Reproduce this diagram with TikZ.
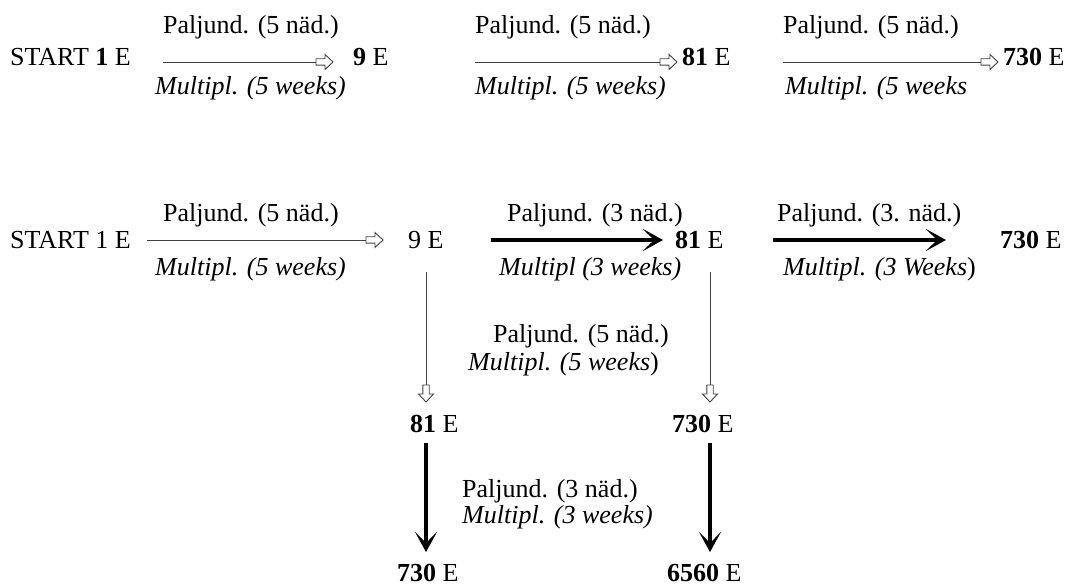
\documentclass[tikz,border=0pt]{standalone}
\usepackage{fontspec}
\setmainfont{Liberation Serif}
\usetikzlibrary{arrows.meta}
\pgfdeclarearrow{
  name = WhiteBlock,
  setup code = {
    \pgfarrowssettipend{0pt}
    \pgfarrowssetlineend{-17pt}
    \pgfarrowssetbackend{-17pt}
    \pgfarrowsupperhullpoint{-17pt}{7.5pt}
    \pgfarrowsupperhullpoint{0pt}{0pt}
  },
  drawing code = {
    \pgfpathmoveto{\pgfqpoint{-17pt}{3.2pt}}
    \pgfpathlineto{\pgfqpoint{-8pt}{3.2pt}}
    \pgfpathlineto{\pgfqpoint{-8pt}{7.5pt}}
    \pgfpathlineto{\pgfqpoint{0pt}{0pt}}
    \pgfpathlineto{\pgfqpoint{-8pt}{-7.5pt}}
    \pgfpathlineto{\pgfqpoint{-8pt}{-3.2pt}}
    \pgfpathlineto{\pgfqpoint{-17pt}{-3.2pt}}
    \pgfpathclose
    \pgfusepathqstroke
  }
}
\tikzset{
  lbl/.style={anchor=base west, inner sep=0pt, font=\fontsize{26}{30}\selectfont},
  thinarr/.style={draw=black!75, line width=0.9pt, -{WhiteBlock}},
  thickarr/.style={draw=black, line width=4pt, -{Stealth[length=20pt,width=22pt,inset=11pt]}}
}
\begin{document}
\begin{tikzpicture}[x=1pt,y=-1pt]
\useasboundingbox (0,0) rectangle (1078,585);
% ---- row 1
\node[lbl] (r1a) at (10,66) {START \textbf{1} E};
\node[lbl] (r1b) at (353,66) {\textbf{9} E};
\node[lbl] (r1c) at (682,66) {\textbf{81} E};
\node[lbl] (r1d) at (1003,66) {\textbf{730} E};
\node[lbl] (p1) at (163,34) {Paljund. (5 näd.)};
\node[lbl] (m1) at (155,95) {\textit{Multipl. (5 weeks)}};
\node[lbl] (p2) at (475,34) {Paljund. (5 näd.)};
\node[lbl] (m2) at (475,95) {\textit{Multipl. (5 weeks)}};
\node[lbl] (p3) at (783,34) {Paljund. (5 näd.)};
\node[lbl] (m3) at (785,95) {\textit{Multipl. (5 weeks}};
\coordinate (a1s) at (163,62); \coordinate (a1e) at (333,62);
\coordinate (a2s) at (475,62); \coordinate (a2e) at (677,62);
\coordinate (a3s) at (783,62); \coordinate (a3e) at (998,62);
\draw[thinarr] (a1s) -- (a1e);
\draw[thinarr] (a2s) -- (a2e);
\draw[thinarr] (a3s) -- (a3e);
% ---- row 2
\node[lbl] (r2a) at (10,249) {START 1 E};
\node[lbl] (r2b) at (408,249) {9 E};
\node[lbl] (r2c) at (675,249) {\textbf{81} E};
\node[lbl] (r2d) at (1000,249) {\textbf{730} E};
\node[lbl] (p4) at (163,222) {Paljund. (5 näd.)};
\node[lbl] (m4) at (155,275) {\textit{Multipl. (5 weeks)}};
\node[lbl] (p5) at (507,222) {Paljund. (3 näd.)};
\node[lbl] (m5) at (499,275) {\textit{Multipl (3 weeks)}};
\node[lbl] (p8) at (777,222) {Paljund. (3. näd.)};
\node[lbl] (m8) at (783,275) {\textit{Multipl. (3 Weeks}{)}};
\coordinate (b1s) at (147,240); \coordinate (b1e) at (383,240);
\coordinate (b2s) at (491,240); \coordinate (b2e) at (663,240);
\coordinate (b3s) at (773,240); \coordinate (b3e) at (946,240);
\draw[thinarr] (b1s) -- (b1e);
\draw[thickarr] (b2s) -- (b2e);
\draw[thickarr] (b3s) -- (b3e);
% ---- row 3
\node[lbl] (p6) at (493,342) {Paljund. (5 näd.)};
\node[lbl] (m6) at (468,370) {\textit{Multipl. (5 weeks}{)}};
\node[lbl] (r3a) at (410,432) {\textbf{81} E};
\node[lbl] (r3b) at (672,432) {\textbf{730} E};
\coordinate (v1s) at (426,272); \coordinate (v1e) at (426,402);
\coordinate (v2s) at (710,272); \coordinate (v2e) at (710,402);
\draw[thinarr] (v1s) -- (v1e);
\draw[thinarr] (v2s) -- (v2e);
% ---- row 4
\node[lbl] (p7) at (462,497) {Paljund. (3 näd.)};
\node[lbl] (m7) at (462,523) {\textit{Multipl. (3 weeks)}};
\node[lbl] (r4a) at (397,581) {\textbf{730} E};
\node[lbl] (r4b) at (667,581) {\textbf{6560} E};
\coordinate (w1s) at (426,443); \coordinate (w1e) at (426,552);
\coordinate (w2s) at (710,443); \coordinate (w2e) at (710,552);
\draw[thickarr] (w1s) -- (w1e);
\draw[thickarr] (w2s) -- (w2e);
\end{tikzpicture}
\end{document}
